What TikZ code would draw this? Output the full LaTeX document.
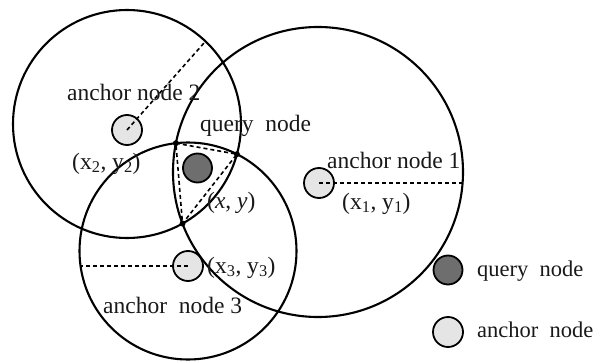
\documentclass[tikz,border=0pt]{standalone}
\usepackage{fontspec}
\setmainfont{Liberation Serif}
\begin{document}
\begin{tikzpicture}[x=1pt,y=-1pt,
  bigcircle/.style={draw=black,line width=2.1pt},
  dashline/.style={draw=black,line width=1.6pt,dash pattern=on 4pt off 3pt},
  anchornode/.style={circle,draw=black,line width=1.8pt,fill=black!10,minimum size=30pt,inner sep=0pt},
  querynode/.style={circle,draw=black,line width=1.8pt,fill=black!57,minimum size=29pt,inner sep=0pt},
  crossdot/.style={circle,fill=black,minimum size=6pt,inner sep=0pt},
  lbl/.style={anchor=base west,inner sep=0pt,text=black!90,font=\fontsize{23.5}{28}\selectfont},
  keylbl/.style={lbl,font=\fontsize{22.5}{27}\selectfont}]
\useasboundingbox (0,0) rectangle (597,361);
% big circles
\coordinate (c1) at (318,172);
\coordinate (c2) at (127,124);
\coordinate (c3) at (188,251);
\draw[bigcircle] (c1) circle[radius=145pt];
\draw[bigcircle] (c2) circle[radius=114pt];
\draw[bigcircle] (c3) circle[radius=108.5pt];
% intersection points of the query region
\coordinate (t) at (175.9,143.2);
\coordinate (r) at (236.9,154.2);
\coordinate (b) at (182.5,223.6);
% anchor and query nodes
\node[anchornode] (a1) at (319,183) {};
\node[anchornode] (a2) at (127,130) {};
\node[anchornode] (a3) at (188,266) {};
\node[querynode] (q) at (197.5,168) {};
% range lines
\coordinate (e1) at (462,183);
\coordinate (e2) at (204,43);
\coordinate (e3) at (81,266);
\draw[dashline] (a1.center) -- (e1);
\draw[dashline] (a2.center) -- (e2);
\draw[dashline] (a3.center) -- (e3);
% dashed triangle
\draw[dashline] (t) -- (r) -- (b) -- cycle;
\node[crossdot] (dt) at (t) {};
\node[crossdot] (dr) at (r) {};
\node[crossdot] (db) at (b) {};
% labels
\node[lbl] (l2) at (67,100) {anchor node 2};
\node[lbl] (p2) at (72,169) {(x\textsubscript{2}, y\textsubscript{2})};
\node[lbl] (lq) at (200,131) {query\ \ node};
\node[lbl] (pq) at (207,208) {(\textit{x}, \textit{y})};
\node[lbl] (l1) at (327,168) {anchor node 1};
\node[lbl] (p1) at (342,209) {(x\textsubscript{1}, y\textsubscript{1})};
\node[lbl] (p3) at (207,273) {(x\textsubscript{3}, y\textsubscript{3})};
\node[lbl] (l3) at (103,313) {anchor\ \ node 3};
% legend
\node[querynode] (kq) at (448,270) {};
\node[anchornode] (ka) at (448,332) {};
\node[keylbl] (tq) at (477,276) {query\ \ node};
\node[keylbl] (ta) at (477,337) {anchor\ \ node};
\end{tikzpicture}
\end{document}
